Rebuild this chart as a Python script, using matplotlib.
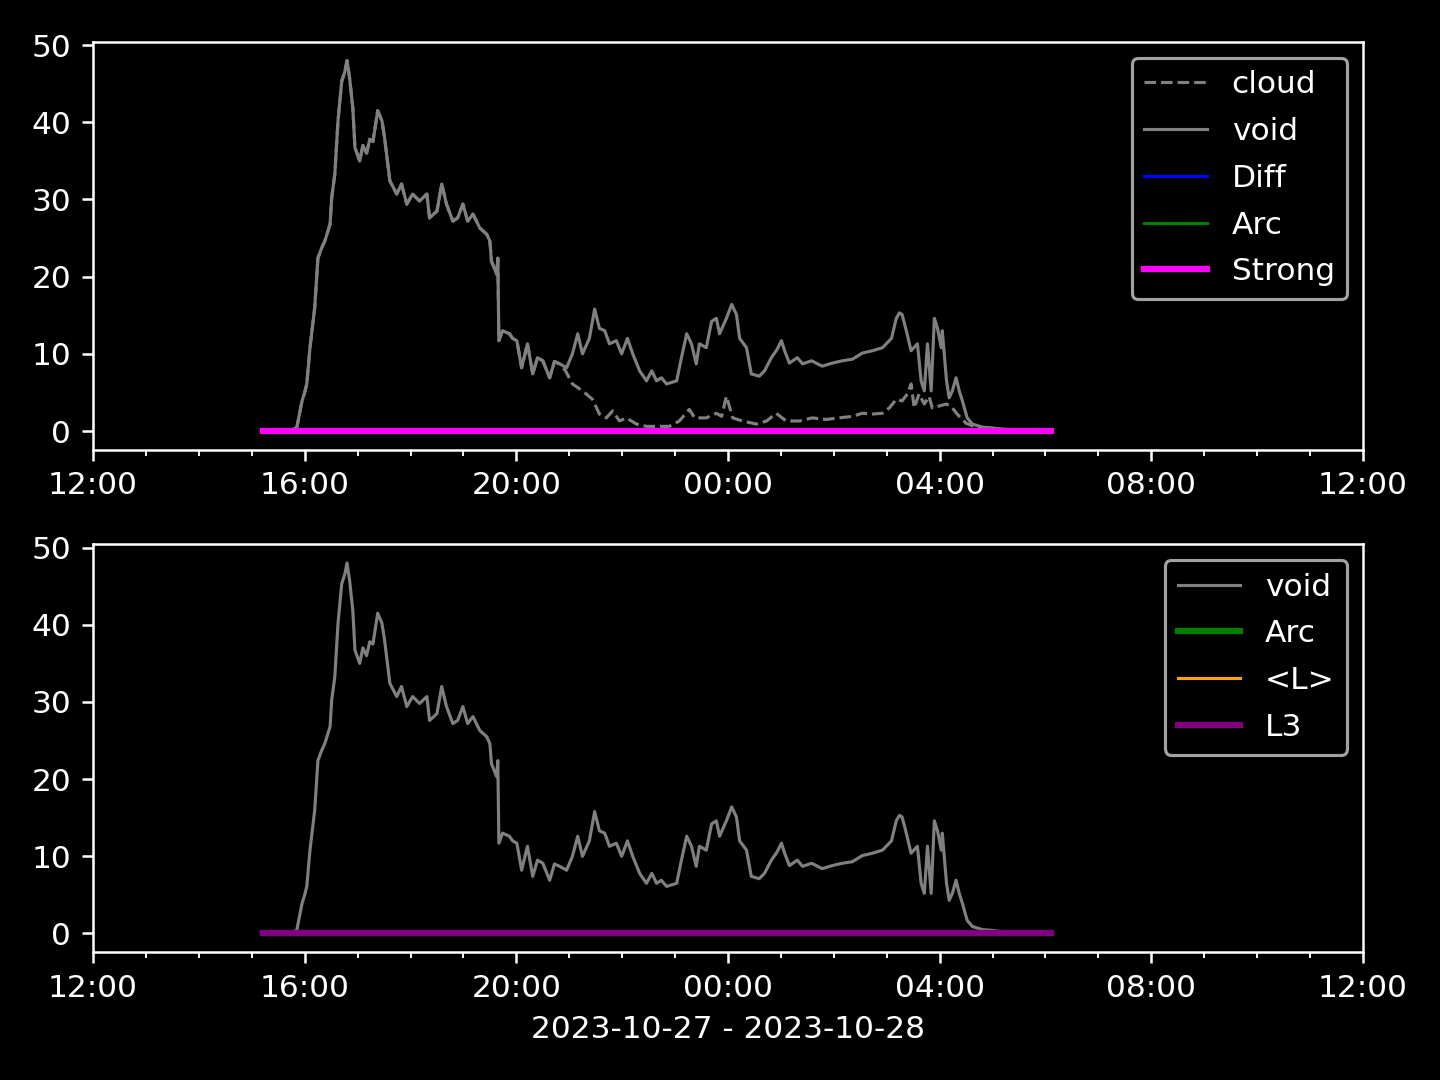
import matplotlib
matplotlib.use("Agg")
import matplotlib.pyplot as plt
import matplotlib.dates as mdates
import pandas as pd

# hours after 2023-10-27 12:00
void_h = [3.21, 3.72, 3.85, 3.95, 4.00, 4.04, 4.10, 4.19, 4.25, 4.32, 4.38, 4.48, 4.51, 4.57,
          4.63, 4.70, 4.76, 4.80, 4.85, 4.91, 4.95, 5.04, 5.10, 5.17, 5.23, 5.29, 5.38, 5.46, 5.51,
          5.61, 5.74, 5.83, 5.93, 6.04, 6.17, 6.31, 6.36, 6.50, 6.59, 6.68, 6.80, 6.89, 6.99,
          7.08, 7.18, 7.31, 7.44, 7.50, 7.53, 7.63, 7.65, 7.67, 7.74, 7.87, 7.93, 8.01, 8.10,
          8.21, 8.31, 8.40, 8.50, 8.63, 8.72, 8.82, 8.95, 9.06, 9.16, 9.25, 9.38, 9.48, 9.57,
          9.67, 9.76, 9.89, 9.99, 10.10, 10.20, 10.33, 10.46, 10.56, 10.65, 10.74, 10.84,
          11.03, 11.12, 11.22, 11.31, 11.40, 11.46, 11.59, 11.69, 11.78, 11.84, 11.97, 12.07,
          12.16, 12.22, 12.35, 12.44, 12.59, 12.69, 12.82, 12.93, 13.01, 13.07, 13.16, 13.31,
          13.41, 13.58, 13.78, 13.97, 14.16, 14.35, 14.54, 14.73, 14.92, 15.09, 15.18, 15.24,
          15.29, 15.37, 15.46, 15.58, 15.65, 15.71, 15.77, 15.84, 15.90, 15.96, 16.03, 16.05,
          16.13, 16.18, 16.24, 16.31, 16.37, 16.43, 16.52, 16.62, 16.81, 17.00, 17.31, 18.11]
void_v = [0.0, 0.1, 0.4, 3.9, 5.0, 6.1, 10.8, 16.0, 22.4, 23.7, 24.6, 26.8, 30.2, 33.3,
          40.2, 45.3, 46.6, 48.0, 45.7, 41.8, 36.7, 35.0, 37.0, 36.0, 37.8, 37.5, 41.5, 40.2, 38.0,
          32.4, 30.7, 32.0, 29.4, 30.7, 29.8, 30.7, 27.6, 28.5, 32.0, 29.4, 27.2, 27.6, 29.4,
          27.2, 28.1, 26.3, 25.5, 24.6, 22.0, 20.3, 22.4, 11.7, 13.0, 12.6, 12.0, 11.7, 8.2,
          11.3, 7.4, 9.5, 9.1, 6.9, 9.0, 8.7, 8.2, 10.0, 12.6, 10.0, 12.0, 15.8, 13.3,
          13.0, 11.3, 11.7, 10.0, 12.0, 10.0, 7.8, 6.5, 7.8, 6.5, 6.9, 6.1,
          6.5, 9.5, 12.6, 11.3, 8.7, 11.3, 10.8, 14.2, 14.6, 12.6, 14.6, 16.4,
          15.1, 12.0, 10.8, 7.4, 7.1, 7.8, 9.5, 10.6, 11.7, 10.4, 8.8, 9.5,
          8.7, 9.1, 8.4, 8.8, 9.1, 9.3, 10.1, 10.4, 10.8, 12.0, 14.6, 15.3,
          15.1, 13.0, 10.4, 11.3, 6.5, 5.2, 11.3, 5.2, 14.6, 13.3, 10.8, 13.0,
          6.5, 4.3, 5.2, 6.9, 5.2, 3.9, 1.7, 0.9, 0.5, 0.4, 0.1, 0.0]

cloud_h = void_h[:64] + [8.93, 9.06, 9.25, 9.44, 9.57, 9.70, 9.82, 9.95, 10.08, 10.27, 10.46,
          10.70, 10.89, 11.08, 11.27, 11.37, 11.59, 11.78, 11.88, 11.97, 12.09, 12.27, 12.54,
          12.73, 12.91, 13.10, 13.35, 13.59, 13.86, 14.10, 14.35, 14.54, 14.73, 14.92, 15.05,
          15.18, 15.29, 15.39, 15.46, 15.52, 15.61, 15.71, 15.80, 15.86, 16.13, 16.24, 16.33,
          16.50, 16.69, 17.00, 18.11]
cloud_v = void_v[:64] + [7.8, 6.1, 5.2, 4.1, 2.2, 1.7, 2.6, 1.3, 1.7, 0.9, 0.6,
          0.6, 0.6, 1.3, 2.8, 1.7, 1.7, 2.3, 1.9, 4.5, 1.7, 1.3, 0.9,
          1.3, 2.3, 1.3, 1.3, 1.7, 1.5, 1.7, 1.9, 2.3, 2.2, 2.3, 3.0,
          4.1, 3.9, 4.8, 6.1, 3.0, 4.8, 3.5, 4.5, 3.0, 3.5, 3.0, 2.2,
          1.0, 0.5, 0.3, 0.0]

flat_h = [3.21, 18.11]
diff_v = [0.0, 0.0]
arc_v = [0.0, 0.0]
strong_v = [0.0, 0.0]
meanL_v = [0.0, 0.0]
l3_v = [0.0, 0.0]

base = pd.Timestamp("2023-10-27 12:00")
def to_t(hours):
    return [base + pd.Timedelta(hours=h) for h in hours]

plt.style.use("dark_background")
fig, (ax1, ax2) = plt.subplots(2, 1, figsize=(6.4, 4.8), dpi=225)
fig.subplots_adjust(left=0.0646, right=0.9465, top=0.9611, bottom=0.1185, hspace=0.233)

ax1.plot(to_t(cloud_h), cloud_v, color="gray", ls="--", lw=1, label="cloud")
ax1.plot(to_t(void_h), void_v, color="gray", lw=1, label="void")
ax1.plot(to_t(flat_h), diff_v, color="blue", lw=1, label="Diff")
ax1.plot(to_t(flat_h), arc_v, color="green", lw=1, label="Arc")
ax1.plot(to_t(flat_h), strong_v, color="magenta", lw=2, label="Strong")
ax1.legend(loc="upper right", labelspacing=0.57)

ax2.plot(to_t(void_h), void_v, color="gray", lw=1, label="void")
ax2.plot(to_t(flat_h), arc_v, color="green", lw=2, label="Arc")
ax2.plot(to_t(flat_h), meanL_v, color="orange", lw=1, label="<L>")
ax2.plot(to_t(flat_h), l3_v, color="purple", lw=2, label="L3")
ax2.legend(loc="upper right", labelspacing=0.57)
ax2.set_xlabel("2023-10-27 - 2023-10-28")

for ax in (ax1, ax2):
    ax.set_xlim(base, base + pd.Timedelta(hours=24))
    ax.xaxis.set_major_locator(mdates.HourLocator(byhour=[0, 4, 8, 12, 16, 20]))
    ax.xaxis.set_minor_locator(mdates.HourLocator())
    ax.xaxis.set_major_formatter(mdates.DateFormatter("%H:%M"))
    ax.set_yticks([0, 10, 20, 30, 40, 50])

fig.savefig("out.png", dpi=225)
